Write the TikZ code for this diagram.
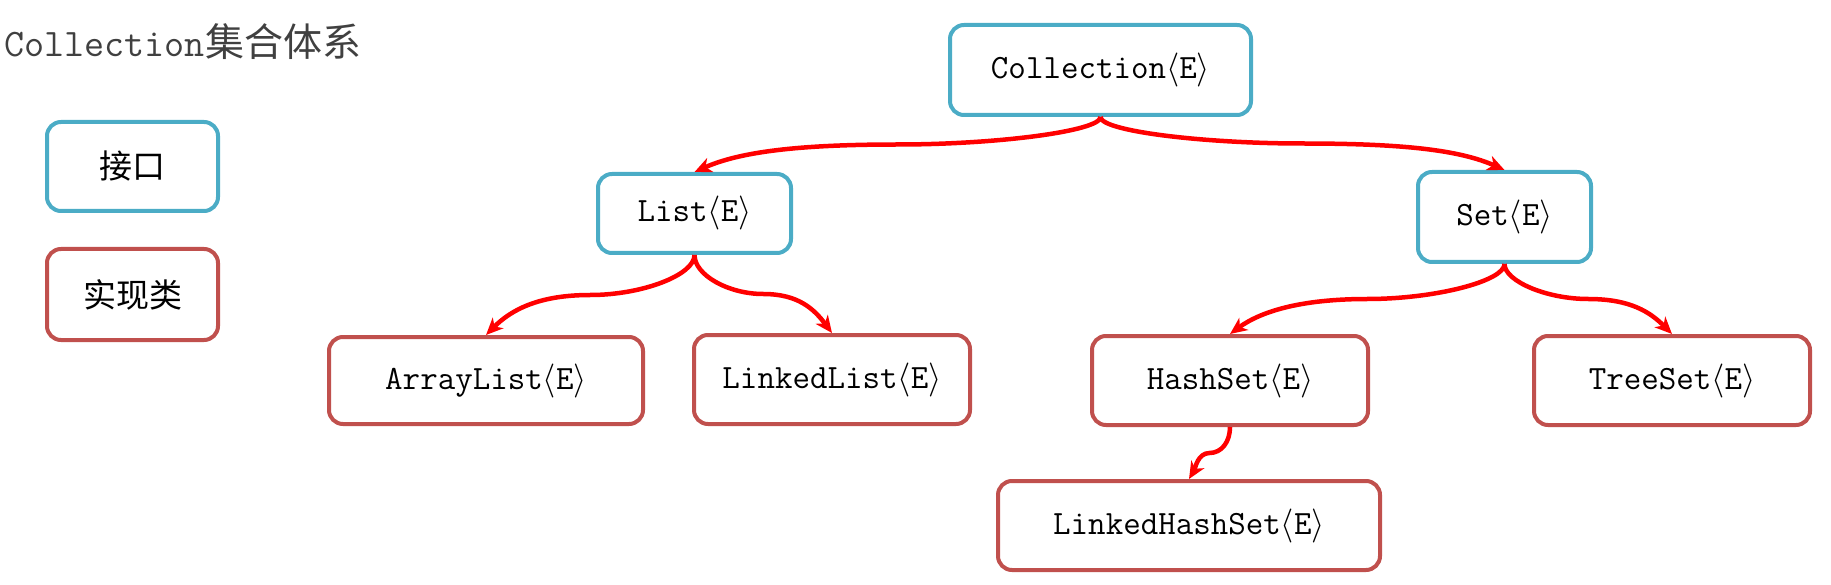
\RequirePackage{fix-cm}
\documentclass[tikz,border=0pt]{standalone}
\usepackage{fontspec}
\newfontfamily\cjk{Noto Sans CJK SC}
\usetikzlibrary{arrows.meta,calc}
\definecolor{ifc}{HTML}{4BACC6}
\definecolor{imc}{HTML}{C0504D}
\definecolor{arc}{HTML}{FF0000}
\definecolor{ttl}{HTML}{404040}
\begin{document}
\begin{tikzpicture}[x=1pt,y=-1pt,
  box/.style={draw, line width=4pt, rounded corners=14pt, inner sep=0pt,
    font=\fontsize{34}{40}\selectfont\ttfamily, text=black},
  ifbox/.style={box, draw=ifc},
  imbox/.style={box, draw=imc},
  legtext/.style={font=\fontsize{33}{40}\selectfont\cjk},
  conn/.style={draw=arc, line width=4.5pt, -{Stealth[length=17pt,width=15pt,inset=5pt]}}]
\useasboundingbox (0,0) rectangle (1831,585);

% title
\node[anchor=base west, inner sep=0pt, text=ttl,
  font=\fontsize{39}{46}\selectfont\ttfamily] (title) at (4,57)
  {Collection{\cjk\fontsize{39}{46}\selectfont 集合体系}};

% legend
\node[ifbox, legtext, minimum width=171pt, minimum height=89pt] (leg1) at (132.5,166.5) {接口};
\node[imbox, legtext, minimum width=171pt, minimum height=91pt] (leg2) at (132.5,294.5) {实现类};

% interfaces
\node[ifbox, minimum width=301pt, minimum height=90pt] (coll) at (1100.5,70) {Collection$\langle$E$\rangle$};
\node[ifbox, minimum width=193pt, minimum height=79pt] (list) at (694.5,213.5) {List$\langle$E$\rangle$};
\node[ifbox, minimum width=173pt, minimum height=90pt] (set) at (1504.5,217) {Set$\langle$E$\rangle$};

% implementations
\node[imbox, minimum width=314pt, minimum height=87pt] (array) at (486,380.5) {ArrayList$\langle$E$\rangle$};
\node[imbox, minimum width=276pt, minimum height=89pt] (linked) at (832,379.5) {LinkedList$\langle$E$\rangle$};
\node[imbox, minimum width=276pt, minimum height=89pt] (hash) at (1230,380.5) {HashSet$\langle$E$\rangle$};
\node[imbox, minimum width=276pt, minimum height=89pt] (tree) at (1672,380.5) {TreeSet$\langle$E$\rangle$};
\node[imbox, minimum width=382pt, minimum height=89pt] (lhs) at (1189,525.5) {LinkedHashSet$\langle$E$\rangle$};

% midpoints
\coordinate (m1) at ($(coll.south)!0.5!(list.north)$);
\coordinate (m2) at ($(coll.south)!0.5!(set.north)$);
\coordinate (m3) at ($(list.south)!0.5!(array.north)$);
\coordinate (m4) at ($(list.south)!0.5!(linked.north)$);
\coordinate (m5) at ($(set.south)!0.5!(hash.north)$);
\coordinate (m6) at ($(set.south)!0.5!(tree.north)$);
\coordinate (m7) at ($(hash.south)!0.5!(lhs.north)$);

% connectors
\draw[conn] (coll.south) .. controls +(0,14) and +(100,0) .. (m1)
  .. controls +(-100,0) and +(45,-20) .. (list.north);
\draw[conn] (coll.south) .. controls +(0,14) and +(-100,0) .. (m2)
  .. controls +(100,0) and +(-45,-20) .. (set.north);
\draw[conn] (list.south) .. controls +(0,20) and +(52,0) .. (m3)
  .. controls +(-52,0) and +(25,-25) .. (array.north);
\draw[conn] (list.south) .. controls +(0,20) and +(-35,0) .. (m4)
  .. controls +(35,0) and +(-18,-24) .. (linked.north);
\draw[conn] (set.south) .. controls +(0,17) and +(68,0) .. (m5)
  .. controls +(-68,0) and +(30,-22) .. (hash.north);
\draw[conn] (set.south) .. controls +(0,17) and +(-42,0) .. (m6)
  .. controls +(42,0) and +(-22,-22) .. (tree.north);
\draw[conn] (hash.south) .. controls +(0,15) and +(12,0) .. (m7)
  .. controls +(-12,0) and +(6,-10) .. (lhs.north);
\end{tikzpicture}
\end{document}
